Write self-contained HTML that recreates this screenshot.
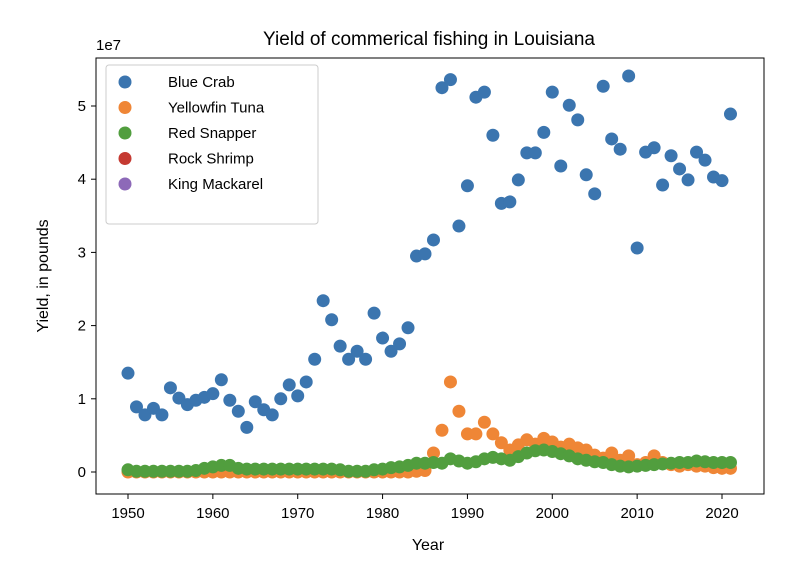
<!DOCTYPE html>
<html><head><meta charset="utf-8"><style>
body{margin:0;background:#fff;}
svg text{font-family:"Liberation Sans","DejaVu Sans",sans-serif;fill:#000;}
</style></head><body>
<svg id="chart" width="806" height="564" viewBox="0 0 806 564">
<rect width="806" height="564" fill="#fff"/>
<text x="429" y="45" font-size="19" text-anchor="middle">Yield of commerical fishing in Louisiana</text>
<text x="96" y="50" font-size="15">1e7</text>
<text x="428" y="550" font-size="16" text-anchor="middle">Year</text>
<text transform="translate(48,276) rotate(-90)" font-size="16" text-anchor="middle">Yield, in pounds</text>
<g id="ticks"></g>
<g id="marks"></g>
<rect x="96" y="58" width="668" height="436" fill="none" stroke="#000" stroke-width="1"/>
<g>
<rect x="106" y="65" width="212" height="159" rx="3" fill="#fff" fill-opacity="0.8" stroke="#ccc"/>
<g id="legend"></g>
</g>
</svg>
<script>
const years = [];
for (let y = 1950; y <= 2021; y++) years.push(y);
const seriesNames = ["Blue Crab","Yellowfin Tuna","Red Snapper","Rock Shrimp","King Mackarel"];
const colors = ["#3b75af","#ef8636","#519e3e","#c53a32","#8d69b8"];
const blueCrab = [1.35,0.89,0.78,0.87,0.78,1.15,1.01,0.92,0.98,1.02,1.07,1.26,0.98,0.83,0.61,0.96,0.85,0.78,1.00,1.19,1.04,1.23,1.54,2.34,2.08,1.72,1.54,1.65,1.54,2.17,1.83,1.65,1.75,1.97,2.95,2.98,3.17,5.25,5.36,3.36,3.91,5.12,5.19,4.60,3.67,3.69,3.99,4.36,4.36,4.64,5.19,4.18,5.01,4.81,4.06,3.80,5.27,4.55,4.41,5.41,3.06,4.37,4.43,3.92,4.32,4.14,3.99,4.37,4.26,4.03,3.98,4.89];
const yellowfinTuna = [0,0,0,0,0,0,0,0,0,0,0,0,0,0,0,0,0,0,0,0,0,0,0,0,0.0,0,0,0,0,0,0,0,0,0,0.01,0.02,0.26,0.57,1.23,0.83,0.52,0.52,0.68,0.52,0.40,0.30,0.37,0.44,0.38,0.46,0.41,0.34,0.38,0.33,0.30,0.23,0.19,0.26,0.16,0.22,0.10,0.13,0.22,0.13,0.10,0.08,0.10,0.08,0.08,0.06,0.05,0.05];
const redSnapper = [0.03,0.01,0.01,0.01,0.01,0.01,0.01,0.01,0.02,0.05,0.07,0.09,0.09,0.05,0.04,0.04,0.04,0.04,0.04,0.04,0.04,0.04,0.04,0.04,0.04,0.03,0.01,0.01,0.01,0.03,0.04,0.06,0.07,0.09,0.12,0.12,0.13,0.12,0.18,0.15,0.12,0.14,0.18,0.20,0.18,0.16,0.21,0.26,0.29,0.30,0.28,0.25,0.22,0.18,0.16,0.14,0.13,0.10,0.08,0.07,0.08,0.09,0.10,0.11,0.12,0.13,0.13,0.15,0.14,0.13,0.13,0.13];
const xTicks = [1950,1960,1970,1980,1990,2000,2010,2020];
const yTicks = [0,1,2,3,4,5];
const NS = "http://www.w3.org/2000/svg";
function xs(v){ return 128 + (v - 1950) * (594 / 70); }
function ys(v){ return 472 - v * 73.2; }
const tg = document.getElementById("ticks");
xTicks.forEach(t => {
  const l = document.createElementNS(NS,"line");
  l.setAttribute("x1",xs(t)); l.setAttribute("x2",xs(t)); l.setAttribute("y1",494); l.setAttribute("y2",499);
  l.setAttribute("stroke","#000");
  
  
  tg.appendChild(l);
  const tx = document.createElementNS(NS,"text");
  tx.setAttribute("x",xs(t)); tx.setAttribute("y",518); tx.setAttribute("font-size","15"); tx.setAttribute("text-anchor","middle");
  tx.textContent = t;
  
  
  tg.appendChild(tx);
});
yTicks.forEach(t => {
  const l = document.createElementNS(NS,"line");
  l.setAttribute("x1",91); l.setAttribute("x2",96); l.setAttribute("y1",ys(t)); l.setAttribute("y2",ys(t));
  l.setAttribute("stroke","#000");
  
  
  tg.appendChild(l);
  const tx = document.createElementNS(NS,"text");
  tx.setAttribute("x",86); tx.setAttribute("y",ys(t)+5); tx.setAttribute("font-size","15"); tx.setAttribute("text-anchor","end");
  tx.textContent = t;
  
  
  tg.appendChild(tx);
});
const mg = document.getElementById("marks");
[[blueCrab,0,"blue-crab-point"],[yellowfinTuna,1,"yellowfin-tuna-point"],[redSnapper,2,"red-snapper-point"]].forEach(([arr,ci,nm]) => {
  arr.forEach((v,i) => {
    const c = document.createElementNS(NS,"circle");
    c.setAttribute("cx",xs(years[i])); c.setAttribute("cy",ys(v)); c.setAttribute("r",6.5);
    c.setAttribute("fill",colors[ci]);
    
    
    mg.appendChild(c);
  });
});
const lg = document.getElementById("legend");
seriesNames.forEach((n,i) => {
  const y = 82 + i * 25.5;
  const c = document.createElementNS(NS,"circle");
  c.setAttribute("cx",125); c.setAttribute("cy",y); c.setAttribute("r",6.5); c.setAttribute("fill",colors[i]);
  
  
  lg.appendChild(c);
  const t = document.createElementNS(NS,"text");
  t.setAttribute("x",168); t.setAttribute("y",y+5); t.setAttribute("font-size","15");
  t.textContent = n;
  
  
  lg.appendChild(t);
});
</script>
</body></html>
